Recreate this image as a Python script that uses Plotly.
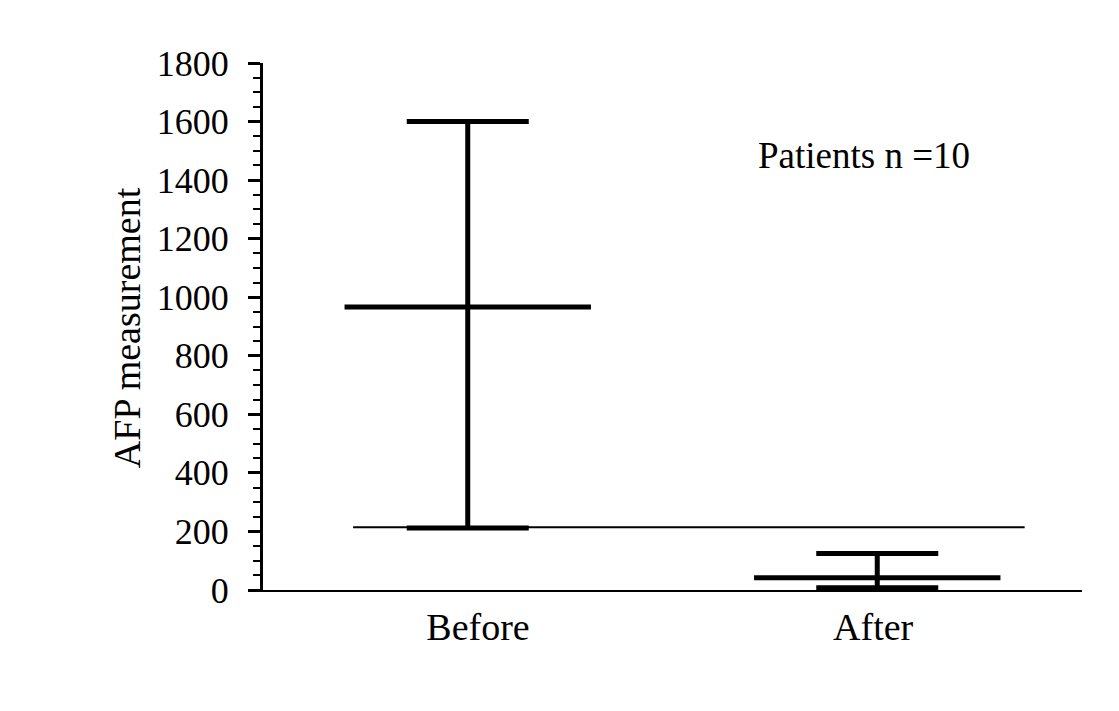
import plotly.graph_objects as go

# ---- data ----
categories = ["Before", "After"]
means = [967, 42]
upper = [1600, 125]
lower = [212, 7.5]
ref_line_value = 214
y_ticks = [0, 200, 400, 600, 800, 1000, 1200, 1400, 1600, 1800]
y_title = "AFP measurement"
note_text = "Patients n =10"

FONT = "Liberation Serif, Times New Roman, serif"
xs = list(range(len(categories)))
label_pos = [0.025, 0.99]  # slight offsets of category labels as in original

fig = go.Figure()

# reference line (drawn first)
fig.add_trace(go.Scatter(
    x=[-0.28, 1.36], y=[ref_line_value, ref_line_value],
    mode="lines", line=dict(color="black", width=2),
    showlegend=False, hoverinfo="skip"))

# means with error bars
fig.add_trace(go.Scatter(
    x=xs, y=means, mode="markers",
    marker=dict(symbol="line-ew", size=176, color="black",
                line=dict(color="black", width=5)),
    error_y=dict(type="data", symmetric=False,
                 array=[u - m for u, m in zip(upper, means)],
                 arrayminus=[m - l for m, l in zip(means, lower)],
                 color="black", thickness=5, width=61),
    showlegend=False, hoverinfo="skip"))

fig.update_layout(
    width=1119, height=711,
    margin=dict(l=255, r=45, t=55, b=129),
    paper_bgcolor="white", plot_bgcolor="white",
    font=dict(family=FONT, size=36, color="black"),
    xaxis=dict(range=[-0.5, 1.5], tickmode="array", tickvals=label_pos,
               ticktext=categories, showline=True, linecolor="black",
               linewidth=2, ticks="", showgrid=False, zeroline=False,
               tickfont=dict(size=38), ticklabelstandoff=2),
    yaxis=dict(range=[0, 1800], tickmode="array", tickvals=y_ticks,
               showline=True, linecolor="black", linewidth=3,
               ticks="outside", ticklen=12, tickwidth=3, tickcolor="black",
               minor=dict(dtick=50, ticks="outside", ticklen=7,
                          tickwidth=2, tickcolor="black"),
               showgrid=False, zeroline=False, ticklabelstandoff=12),
    annotations=[
        dict(text=note_text, xref="paper", yref="paper",
             x=0.734, y=0.825, xanchor="center", yanchor="middle",
             showarrow=False, font=dict(family=FONT, size=37)),
        dict(text=y_title, xref="paper", yref="paper",
             x=-0.166, y=0.497, xanchor="center", yanchor="middle",
             textangle=-90, showarrow=False,
             font=dict(family=FONT, size=38)),
    ],
)

fig.write_html("out.html")
